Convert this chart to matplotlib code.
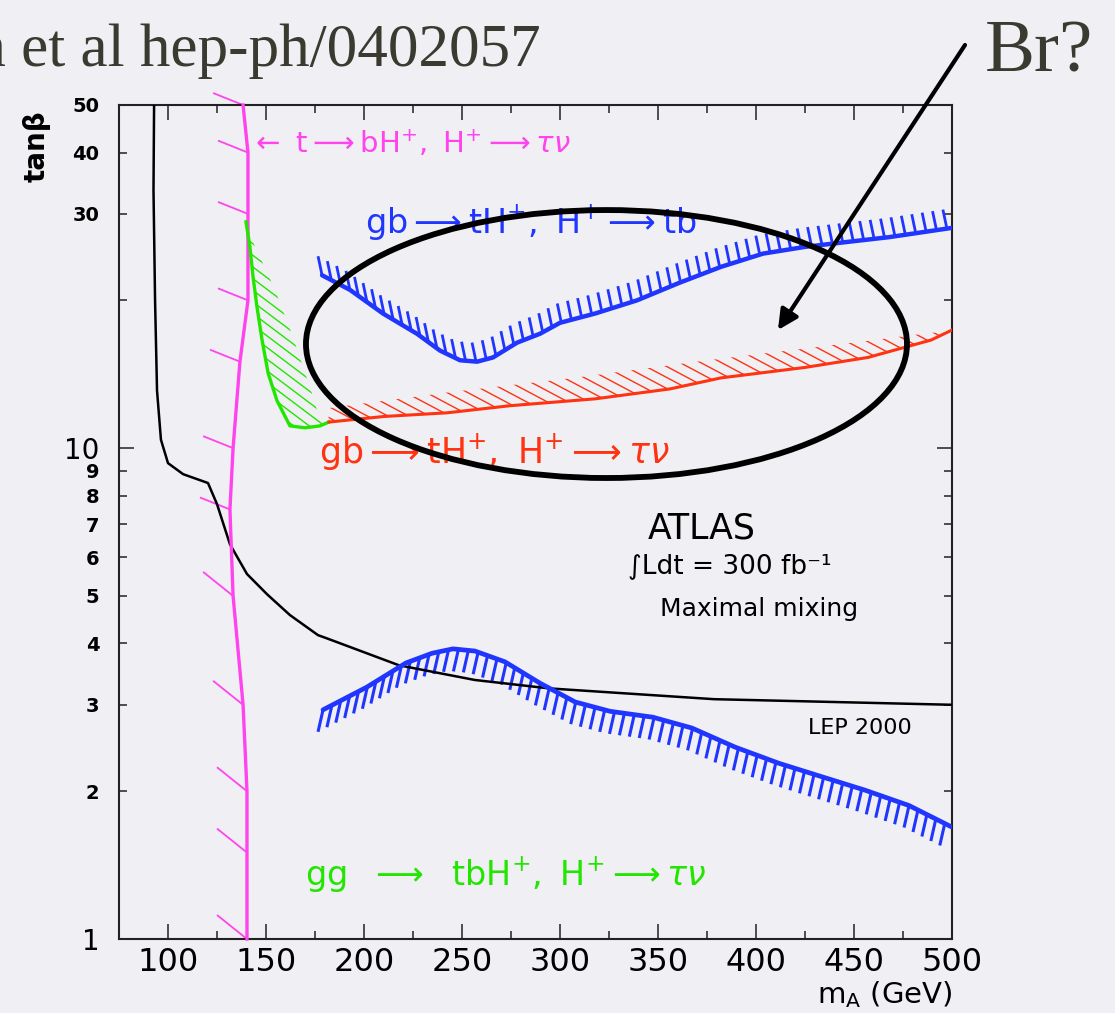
import numpy as np
import matplotlib
matplotlib.use('Agg')
import matplotlib.pyplot as plt
from matplotlib.collections import LineCollection
from matplotlib.patches import Ellipse, Polygon

# ---- data (m_A in GeV, tan beta) ----
lep_x = [92.9, 92.6, 93.4, 94.4, 96.4, 100.0, 107.7, 120.4, 125.0, 131.6, 140.3,
         150.5, 162.2, 176.5, 183.7, 217.9, 256.6, 294.4, 378.6, 500.0]
lep_y = [50, 33.5, 20.0, 13.1, 10.4, 9.32, 8.85, 8.49, 7.69, 6.37, 5.54,
         5.04, 4.57, 4.16, 4.06, 3.61, 3.37, 3.24, 3.08, 3.00]

# t -> bH+, H+ -> tau nu
pink_x = [138.3, 140.8, 140.8, 140.8, 136.7, 133.2, 131.6, 133.2, 138.3, 140.3, 140.3, 140.3]
pink_y = [50, 40, 30, 20, 15, 10, 7.5, 5, 3, 2, 1.5, 1]

# gg -> tbH+, H+ -> tau nu
green_x = [139.8, 141.8, 143.4, 145.4, 148.0, 151.1, 155.6, 162.2, 169.9, 177.6, 182.1]
green_y = [28.9, 25.7, 22.3, 19.4, 16.6, 14.2, 12.5, 11.1, 11.0, 11.1, 11.3]
green_edge_x = [177.6, 173.5, 163.8, 154.6, 143.9]
green_edge_y = [11.4, 12.9, 16.8, 21.0, 26.0]

# gb -> tH+, H+ -> tau nu
red_x = [182.1, 210.2, 242.3, 274.5, 317.9, 356.1, 382.1, 425.0, 457.1, 489.3, 500.0]
red_y = [11.3, 11.6, 11.8, 12.2, 12.6, 13.2, 13.9, 14.6, 15.3, 16.6, 17.4]
red_edge_x = [497.4, 485.7, 433.2, 369.9, 307.1, 243.9, 181.6]
red_edge_y = [17.3, 17.1, 16.1, 15.0, 13.9, 13.0, 12.06]

# gb -> tH+, H+ -> tb (upper and lower branch)
bu_x = [178.6, 192.9, 209.7, 227.0, 238.8, 249.0, 257.7, 265.8, 278.1, 289.8, 300.0,
        317.9, 339.3, 360.7, 382.1, 403.6, 425.0, 446.4, 467.9, 500.0]
bu_y = [22.5, 21.0, 18.8, 17.1, 15.8, 15.1, 15.0, 15.3, 16.4, 17.1, 18.0,
        18.8, 20.0, 21.7, 23.4, 24.9, 25.7, 26.3, 26.9, 28.1]
bl_x = [179.1, 201.5, 221.4, 234.7, 245.4, 256.6, 271.9, 289.8, 307.7, 325.5,
        347.4, 367.3, 389.3, 411.7, 433.7, 455.6, 478.1, 500.0]
bl_y = [2.93, 3.26, 3.65, 3.82, 3.90, 3.86, 3.67, 3.32, 3.04, 2.91,
        2.83, 2.69, 2.46, 2.28, 2.14, 2.01, 1.87, 1.69]

x_major = [100, 150, 200, 250, 300, 350, 400, 450, 500]
x_minor = [125, 175, 225, 275, 325, 375, 425, 475]
y_major = [1, 10]
y_minor = [2, 3, 4, 5, 6, 7, 8, 9, 20, 30, 40, 50]
y_minor_labels = ['2', '3', '4', '5', '6', '7', '8', '9', '', '30', '40', '50']

BG = '#efeff4'
PINK = '#ff44ee'
GREEN = '#22e600'
RED = '#ff3311'
BLUE = '#2036ff'

plt.rcParams['font.family'] = ['DejaVu Sans']

fig = plt.figure(figsize=(11.15, 10.13), dpi=100)
fig.patch.set_facecolor(BG)
ax = fig.add_axes([119 / 1115, 74 / 1013, 833 / 1115, 834 / 1013])
ax.set_facecolor(BG)
ax.set_yscale('log')
ax.set_xlim(75, 500)
ax.set_ylim(1, 50)

ax.set_xticks(x_major)
ax.set_xticklabels([str(v) for v in x_major])
ax.set_xticks(x_minor, minor=True)
ax.set_yticks(y_major)
ax.set_yticklabels(['1', '10'])
ax.set_yticks(y_minor, minor=True)
ax.set_yticklabels(y_minor_labels, minor=True)
ax.tick_params(which='both', direction='in', top=True, right=True, width=1.1, color='#222222')
ax.tick_params(which='major', length=11)
ax.tick_params(which='minor', length=5.5)
ax.tick_params(axis='x', which='major', labelsize=23, pad=6)
ax.tick_params(axis='y', which='major', labelsize=20, pad=14)
ax.tick_params(axis='y', which='minor', labelsize=14, pad=14)
for t in ax.get_yticklabels(minor=True):
    t.set_fontweight('bold')
for s in ax.spines.values():
    s.set_linewidth(1.5)
    s.set_color('#222222')


def to_disp(xs, ys):
    return ax.transData.transform(np.column_stack([xs, ys]))


def to_data(pts):
    return ax.transData.inverted().transform(pts)


# short hatch ticks hanging off a curve, evenly spaced along it (pixels)
def hatch_ticks(xs, ys, step, off, color, lw):
    pts = to_disp(xs, ys)
    seg = np.diff(pts, axis=0)
    d = np.concatenate([[0], np.cumsum(np.hypot(seg[:, 0], seg[:, 1]))])
    s = np.arange(0, d[-1], step)
    a = np.column_stack([np.interp(s, d, pts[:, 0]), np.interp(s, d, pts[:, 1])])
    b = a + np.array(off)
    segs = [[p, q] for p, q in zip(to_data(a), to_data(b))]
    ax.add_collection(LineCollection(segs, colors=color, linewidths=lw), autolim=False)


# parallel hatch lines clipped to a region
def hatch_fill(xs, ys, angle, gap, color, lw):
    pts = to_disp(xs, ys)
    th = np.radians(angle)
    u = np.array([np.cos(th), np.sin(th)])
    n = np.array([-np.sin(th), np.cos(th)])
    c = pts.mean(axis=0)
    R = np.hypot(*(pts.max(axis=0) - pts.min(axis=0)))
    k = np.arange(-int(R / gap) - 1, int(R / gap) + 2)
    segs = []
    for kk in k:
        p0 = c + n * kk * gap
        segs.append(to_data(np.array([p0 - u * R, p0 + u * R])))
    lc = LineCollection(segs, colors=color, linewidths=lw)
    ax.add_collection(lc, autolim=False)
    lc.set_clip_path(Polygon(np.column_stack([xs, ys]), closed=True, transform=ax.transData))


# LEP
ax.plot(lep_x, lep_y, color='black', lw=1.8, zorder=3)

# pink limit with its slanted ticks at each vertex
ax.plot(pink_x, pink_y, color=PINK, lw=2.4, zorder=4, clip_on=False)
pp = to_disp(pink_x, pink_y)
rise = np.where(np.array(pink_y) >= 7, 12, 24)
ends = pp + np.column_stack([np.full(len(pp), -30), rise])
pink_segs = [[p, q] for p, q in zip(to_data(pp), to_data(ends))]
ax.add_collection(LineCollection(pink_segs, colors=PINK, linewidths=1.3, clip_on=False),
                  autolim=False)

# green region
hatch_fill(green_x + green_edge_x, green_y + green_edge_y, -37, 9.3, GREEN, 1.0)
ax.plot(green_x, green_y, color=GREEN, lw=2.4, zorder=4)

# red region
hatch_fill(red_x + red_edge_x, red_y + red_edge_y, -28, 9.7, RED, 1.0)
ax.plot(red_x, red_y, color=RED, lw=2.2, zorder=4)

# blue curves
ax.plot(bu_x, bu_y, color=BLUE, lw=3.2, zorder=4, solid_capstyle='round')
hatch_ticks(bu_x, bu_y, 10.5, (-4, 19), BLUE, 2.0)
ax.plot(bl_x, bl_y, color=BLUE, lw=3.4, zorder=4, solid_capstyle='round')
hatch_ticks(bl_x, bl_y, 10.0, (-5, -22), BLUE, 2.2)

# channel labels
ax.text(141.8, 41.8, r'$\leftarrow\ \mathrm{t}\longrightarrow\mathrm{bH^{+},\ H^{+}}\longrightarrow\tau\nu$',
        color=PINK, fontsize=21, ha='left', va='center')
ax.text(200.5, 28.7, r'$\mathrm{gb}\longrightarrow\mathrm{tH^{+},\ H^{+}}\longrightarrow\mathrm{tb}$',
        color=BLUE, fontsize=24, ha='left', va='center')
ax.text(177.0, 9.8, r'$\mathrm{gb}\longrightarrow\mathrm{tH^{+},\ H^{+}}\longrightarrow\tau\nu$',
        color=RED, fontsize=25, ha='left', va='center')
ax.text(169.9, 1.35, r'$\mathrm{gg}\ \ \longrightarrow\ \ \mathrm{tbH^{+},\ H^{+}}\longrightarrow\tau\nu$',
        color=GREEN, fontsize=24, ha='left', va='center')

ax.text(372.4, 6.87, 'ATLAS', fontsize=25, ha='center', va='center')
ax.text(386.7, 5.75, '∫Ldt = 300 fb⁻¹', fontsize=19, ha='center', va='center')
ax.text(401.5, 4.70, 'Maximal mixing', fontsize=18, ha='center', va='center')
ax.text(453.1, 2.69, 'LEP 2000', fontsize=16, ha='center', va='center')

# annotation ellipse and arrow
ax.add_patch(Ellipse((0.5852, 0.7134), 0.7215, 0.3213, transform=ax.transAxes,
                     fill=False, lw=4.2, color='black', zorder=6))
ax.annotate('', xy=(411.2, 17.4), xycoords='data', xytext=(965, 1013 - 45),
            textcoords='figure pixels', annotation_clip=False,
            arrowprops=dict(arrowstyle='-|>', color='black', lw=3, mutation_scale=30,
                            shrinkA=0, shrinkB=0), zorder=7)

# axis titles
fig.text(37 / 1115, 1 - 146 / 1013, 'tanβ', rotation=90, ha='center', va='center',
         fontsize=20, fontweight='bold')
fig.text(952 / 1115, 1 - 1010 / 1013, r'm$_{\mathrm{A}}$ (GeV)', ha='right', va='bottom',
         fontsize=21)

# slide text (cut at the left edge as in the slide)
fig.text(541 / 1115, 1 - 66 / 1013, 'Assamagan et al hep-ph/0402057', ha='right',
         va='baseline', fontsize=44, family='Liberation Serif', color='#3b3a30')
fig.text(985 / 1115, 1 - 72 / 1013, 'Br?', ha='left', va='baseline', fontsize=54,
         family='Liberation Serif', color='#3b3a30')

fig.savefig('out.png', dpi=100, facecolor=BG)
